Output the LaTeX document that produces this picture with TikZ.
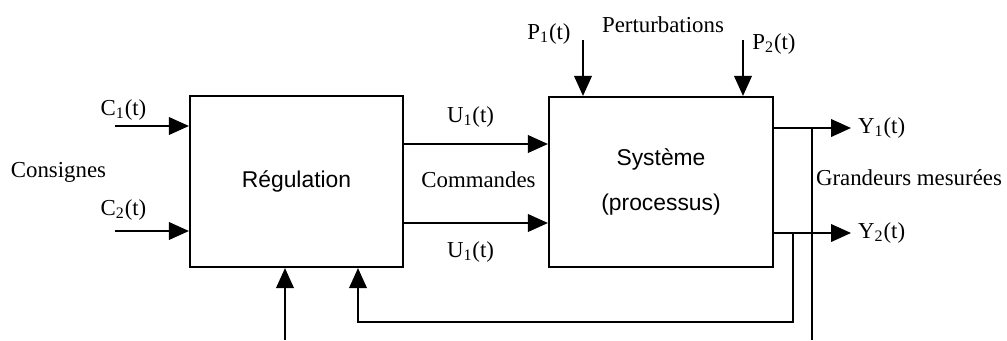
\documentclass[tikz,border=0pt]{standalone}
\usepackage{fontspec}
\setmainfont{Liberation Serif}
\setsansfont{Liberation Sans}
\usetikzlibrary{arrows.meta,calc,positioning}

\tikzset{
	bloc/.style={draw, line width=1.2pt, inner sep=0pt, align=center, font={\sffamily\fontsize{13}{15.6}\selectfont}},
	lbl/.style={inner sep=1pt, font={\fontsize{13}{15.6}\selectfont}},
	fil/.style={line width=1.2pt},
}

\begin{document}
\begin{tikzpicture}[>={Triangle[length=4mm,width=3.5mm]}]
	\useasboundingbox (0,0) rectangle (20.14,6.8);

	\node[bloc, minimum width=4.26cm, minimum height=3.42cm] at (5.93,3.17) (reg) {Régulation};
	\node[bloc, minimum width=4.48cm, minimum height=3.4cm] at (13.22,3.16) (sys) {Système\\[10pt](processus)};

	\coordinate (c1) at (2.3,4.28);
	\coordinate (c2) at (2.3,2.18);
	\draw[fil,->] (c1) -- (c1 -| reg.west);
	\draw[fil,->] (c2) -- (c2 -| reg.west);
	\node[lbl] at (2.47,4.6) (lc1) {C\textsubscript{1}(t)};
	\node[lbl] at (2.47,2.6) (lc2) {C\textsubscript{2}(t)};
	\node[lbl] at (1.17,3.36) (cons) {Consignes};

	\coordinate (u1) at ([yshift=7.5mm]reg.east);
	\coordinate (u2) at ([yshift=-8.3mm]reg.east);
	\draw[fil,->] (u1) -- (u1 -| sys.west);
	\draw[fil,->] (u2) -- (u2 -| sys.west);
	\node[lbl] at (9.41,4.46) (lu1) {U\textsubscript{1}(t)};
	\node[lbl] at (9.41,1.76) (lu2) {U\textsubscript{1}(t)};
	\node[lbl] at (9.57,3.2) (com) {Commandes};

	\coordinate (p1) at (11.66,6.0);
	\coordinate (p2) at (14.86,6.0);
	\draw[fil,->] (p1) -- (p1 |- sys.north);
	\draw[fil,->] (p2) -- (p2 |- sys.north);
	\node[lbl] at (10.98,6.12) (lp1) {P\textsubscript{1}(t)};
	\node[lbl] at (15.48,5.92) (lp2) {P\textsubscript{2}(t)};
	\node[lbl] at (13.26,6.3) (pert) {Perturbations};

	\coordinate (y1) at ([yshift=10.8mm]sys.east);
	\coordinate (y2) at ([yshift=-10.2mm]sys.east);
	\coordinate (ty1) at ($(y1)+(1.54,0)$);
	\coordinate (ty2) at ($(y2)+(1.54,0)$);
	\draw[fil,->] (y1) -- (ty1);
	\draw[fil,->] (y2) -- (ty2);
	\node[lbl, right=1mm of ty1] (ly1) {Y\textsubscript{1}(t)};
	\node[lbl, right=1mm of ty2] (ly2) {Y\textsubscript{2}(t)};
	\node[lbl] at (18.18,3.24) (mes) {Grandeurs mesurées};

	\coordinate (m1) at ($(y1)+(0.76,0)$);
	\coordinate (m2) at ($(y2)+(0.38,0)$);
	\coordinate (b1) at (m1 |- 0,0);
	\coordinate (fb) at (7.16,0.36);
	\coordinate (e1) at (5.70,0);
	\draw[fil] (m1) -- (b1);
	\draw[fil,->] (m2) |- (fb) -- (fb |- reg.south);
	\draw[fil,->] (e1) -- (e1 |- reg.south);
\end{tikzpicture}
\end{document}
